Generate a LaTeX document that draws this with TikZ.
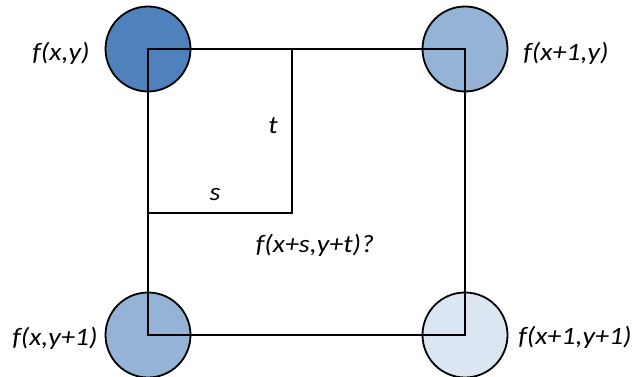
\documentclass[tikz,border=0pt]{standalone}
\usepackage{fontspec}
\setmainfont{Carlito}
\usetikzlibrary{positioning}
\definecolor{cornerdark}{HTML}{4F81BD}
\definecolor{cornermid}{HTML}{95B3D7}
\definecolor{cornerlight}{HTML}{DCE6F2}
\tikzset{
  corner/.style={circle,draw=black,line width=1.8pt,minimum size=85pt,inner sep=0pt},
  lbl/.style={font=\fontsize{25}{30}\selectfont\itshape,inner sep=0pt,xscale=1.12},
  edge/.style={line width=2.6pt}
}

\begin{document}
\begin{tikzpicture}[x=1pt,y=1pt]
        \useasboundingbox (0,0) rectangle (634,376);
        \node[corner,fill=cornerdark] (tl) at (148,327) {};
        \node[corner,fill=cornermid] (tr) at (465,327) {};
        \node[corner,fill=cornermid] (bl) at (148,41) {};
        \node[corner,fill=cornerlight] (br) at (465,41) {};
        \coordinate (st) at (292,163);
        \draw[edge] (tl.center)--(tr.center)--(br.center)--(bl.center)--cycle;
        \draw[edge] (tl.center-|st)--(st)--(tl.center|-st);
        \node[lbl] (ftl) at (61,323) {f(x,y)};
        \node[lbl] (ftr) at (566,323) {f(x+1,y)};
        \node[lbl] (fbl) at (55,38) {f(x,y+1)};
        \node[lbl] (fbr) at (575,39) {f(x+1,y+1)};
        \node[lbl] (tlab) at (273,250) {t};
        \node[lbl] (slab) at (215,181) {s};
        \node[lbl] (fst) at (315,131) {f(x+s,y+t)?};
      \end{tikzpicture}
\end{document}
